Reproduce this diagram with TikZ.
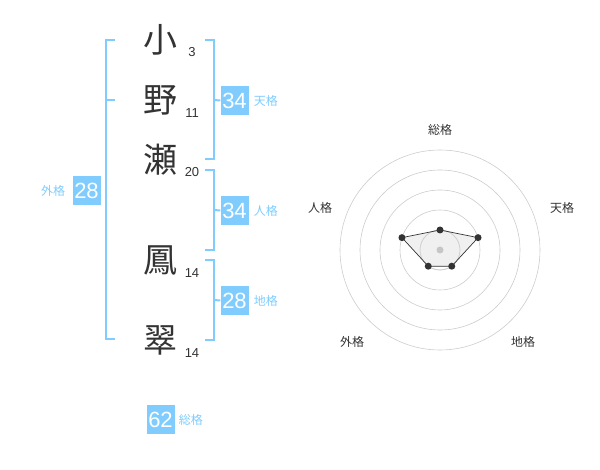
\documentclass[tikz,border=0pt]{standalone}
\usepackage{fontspec}
\setmainfont{Liberation Sans}
\newfontfamily\jpfont{Noto Sans CJK JP}
\usetikzlibrary{positioning}
\definecolor{kakublue}{HTML}{80CCFF}
\definecolor{inkgray}{HTML}{333333}

\begin{document}
\begin{tikzpicture}[x=1pt,y=-1pt,
  kanji/.style={font=\jpfont\fontsize{34}{34}\selectfont, text=inkgray, inner sep=0pt},
  strokes/.style={font=\fontsize{13}{13}\selectfont, text=inkgray, inner sep=0pt, anchor=base},
  scorebox/.style={fill=kakublue, text=white, font=\fontsize{22}{22}\selectfont, minimum width=28pt, minimum height=29pt, inner sep=0pt},
  scorelabel/.style={text=kakublue, font=\jpfont\fontsize{12}{12}\selectfont, inner sep=0pt},
  bracket/.style={draw=kakublue, line width=2pt},
  axislabel/.style={text=inkgray, font=\jpfont\fontsize{12}{12}\selectfont, inner sep=0pt}]
\useasboundingbox (0,0) rectangle (600,470);
% name characters with stroke counts
\node[kanji] (c1) at (160,40)  {小};
\node[kanji] (c2) at (160,100) {野};
\node[kanji] (c3) at (160,160) {瀬};
\node[kanji] (c4) at (160,260) {鳳};
\node[kanji] (c5) at (160,340) {翠};
\node[strokes] (s1) at (192,57)  {3};
\node[strokes] (s2) at (192,118) {11};
\node[strokes] (s3) at (192,177) {20};
\node[strokes] (s4) at (192,278) {14};
\node[strokes] (s5) at (192,358) {14};
% score boxes
\node[scorebox] (ten) at (234.5,100.5) {34};
\node[scorebox] (jin) at (234.5,210.5) {34};
\node[scorebox] (chi) at (234.5,300.5) {28};
\node[scorebox] (gai) at (86.5,190.5)  {28};
\node[scorebox] (sou) at (160.5,419.5) {62};
\node[scorelabel, right=5pt of ten] (tenl) {天格};
\node[scorelabel, right=5pt of jin] (jinl) {人格};
\node[scorelabel, right=5pt of chi] (chil) {地格};
\node[scorelabel, left=7pt of gai]  (gail) {外格};
\node[scorelabel, right=4pt of sou] (soul) {総格};
% brackets
\draw[bracket] (115,40) -- (106,40) -- (106,339) -- (115,339);
\draw[bracket] (106,100) -- (115,100);
\draw[bracket] (205,40) -- (214,40) -- (214,159) -- (205,159);
\draw[bracket] (214,100) -- (ten.west);
\draw[bracket] (205,170) -- (214,170) -- (214,250) -- (205,250);
\draw[bracket] (214,210) -- (jin.west);
\draw[bracket] (205,260) -- (214,260) -- (214,340) -- (205,340);
\draw[bracket] (214,300) -- (chi.west);
% radar chart
\begin{scope}[shift={(440,250)}, yscale=-1]
\foreach \r in {20,40,60,80,100}
  \draw[gray!40, line width=0.6pt] (0,0) circle (\r);
\coordinate (p1) at (90:20);
\coordinate (p2) at (18:40);
\coordinate (p3) at (-54:20);
\coordinate (p4) at (-126:20);
\coordinate (p5) at (162:40);
\fill[gray!15, fill opacity=0.8] (p1) -- (p2) -- (p3) -- (p4) -- (p5) -- cycle;
\draw[gray!40, line width=0.6pt] (0,0) circle (20);
\draw[inkgray, line width=0.7pt] (p1) -- (p2) -- (p3) -- (p4) -- (p5) -- cycle;
\fill[gray!45] (0,0) circle (3.5);
\foreach \p in {p1,p2,p3,p4,p5}
  \fill[inkgray] (\p) circle (3.5);
\end{scope}
\node[axislabel] (ax1) at (440,130) {総格};
\node[axislabel] (ax2) at (562,208) {天格};
\node[axislabel] (ax3) at (523,342) {地格};
\node[axislabel] (ax4) at (352,342) {外格};
\node[axislabel] (ax5) at (320,208) {人格};
\end{tikzpicture}
\end{document}
